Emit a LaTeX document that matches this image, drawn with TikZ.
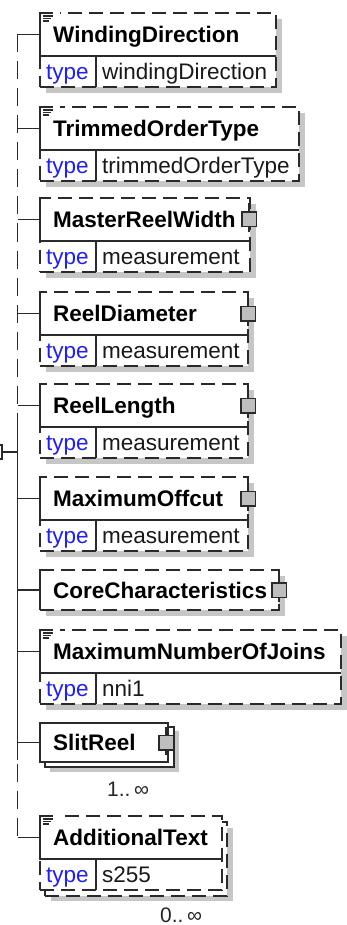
\documentclass[tikz,border=0pt]{standalone}
\usepackage{fontspec}
\setmainfont{Liberation Sans}
\definecolor{linec}{HTML}{2A2A2A}
\definecolor{shadowc}{HTML}{C6C6C6}
\definecolor{typec}{HTML}{1E1EFF}
\definecolor{sqc}{HTML}{BEBEBE}
\tikzset{
  ln/.style={draw=linec, line width=1.6pt},
  dsh/.style={dash pattern=on 14pt off 7pt},
  spinedash/.style={dash pattern=on 18pt off 9pt},
  ebox/.style={ln, fill=white, inner sep=0pt, outer sep=0pt, anchor=north west},
  shd/.style={fill=shadowc},
  ename/.style={font=\fontsize{22.5}{26}\selectfont\bfseries, anchor=base west, inner sep=0pt, text=black},
  tlab/.style={font=\fontsize{22.5}{26}\selectfont, anchor=base west, inner sep=0pt, text=typec},
  tval/.style={font=\fontsize{22.5}{26}\selectfont, anchor=base west, inner sep=0pt, text=black!90},
  card/.style={font=\fontsize{21}{24}\selectfont, anchor=base west, inner sep=0pt, text=black!85},
  sqr/.style={draw=linec, fill=sqc, line width=1.5pt, minimum size=14.5pt, inner sep=0pt},
  icon/.style={draw=linec, line width=1.1pt},
}
\newcommand\boxshadow[4]{\fill[shd] (#1,#2) rectangle (#3,#4);}
\newcommand\telem[6]{%
  \pgfmathsetmacro\eTop{#2}%
  \pgfmathsetmacro\eHb{#2+43}%
  \pgfmathsetmacro\eBot{#2+74}%
  \pgfmathsetmacro\eWid{#3-40}%
  \node[ebox,#6,minimum width=\eWid pt,minimum height=74pt] (#1) at (40,\eTop) {};
  \draw[ln] (40,\eTop) -- (40,\eHb) -- (#3,\eHb);
  \draw[ln] (96,\eHb) -- (96,\eBot);
  \node[ename] (#1-name) at (53,\eTop+29.5) {#4};
  \node[tlab] (#1-type) at (46,\eHb+23.5) {type};
  \node[tval] (#1-val) at (102,\eHb+23.5) {#5};
  \coordinate (#1-in) at (40,\eTop+21.5);
  \coordinate (sp-#1) at (17.5,\eTop+21.5);
}
\newcommand\docicon[1]{%
  \fill[white] (37,#1-3) rectangle (60,#1+2);
  \draw[icon] (40,#1+12) -- (40,#1) -- (53,#1);
  \draw[icon] (43,#1+3) -- (53,#1+3);
  \draw[icon] (43,#1+5.5) -- (51,#1+5.5);
  \draw[icon] (43,#1+8) -- (49,#1+8);
}
\newcommand\kids[3]{%
  \draw[ln] (#2,#3-16) -- (#2,#3+12);
  \node[sqr] (#1) at (#2,#3) {};
}
\begin{document}
\begin{tikzpicture}[x=1pt,y=-1pt]
\useasboundingbox (0,0) rectangle (346,925);
\fill[white] (0,0) rectangle (346,925);

% WindingDirection
\boxshadow{46}{19}{282}{93}
\telem{wd}{13}{276}{WindingDirection}{windingDirection}{dsh}
\docicon{13}
% TrimmedOrderType
\boxshadow{46}{113}{305}{187}
\telem{tot}{107}{299}{TrimmedOrderType}{trimmedOrderType}{dsh}
\docicon{107}
% MasterReelWidth
\boxshadow{46}{204}{256}{278}
\telem{mrw}{198}{250}{MasterReelWidth}{measurement}{dsh}
\kids{mrw-k}{249}{219.5}
% ReelDiameter
\boxshadow{46}{298}{254}{372}
\telem{rd}{292}{248}{ReelDiameter}{measurement}{dsh}
\kids{rd-k}{248}{313.5}
% ReelLength
\boxshadow{46}{390}{254}{464}
\telem{rl}{384}{248}{ReelLength}{measurement}{dsh}
\kids{rl-k}{248}{405.5}
% MaximumOffcut
\boxshadow{46}{483}{254}{557}
\telem{mo}{477}{248}{MaximumOffcut}{measurement}{dsh}
\kids{mo-k}{248}{498.5}
% CoreCharacteristics
\boxshadow{46}{576}{285}{616}
\node[ebox,dsh,minimum width=239pt,minimum height=40pt] (cc) at (40,570) {};
\draw[ln] (40,570) -- (40,610);
\node[ename] (cc-name) at (53,598) {CoreCharacteristics};
\kids{cc-k}{279}{590}
\coordinate (cc-in) at (40,590);
\coordinate (sp-cc) at (17.5,590);
% MaximumNumberOfJoins
\boxshadow{46}{636}{347}{710}
\telem{mnj}{630}{341}{MaximumNumberOfJoins}{nni1}{dsh}
\docicon{630}
% SlitReel
\boxshadow{50}{731}{179}{772}
\node[ebox,minimum width=129pt,minimum height=40pt] (sr-back) at (45,727) {};
\node[ebox,minimum width=128pt,minimum height=39pt] (sr) at (40,723) {};
\node[ename] (sr-name) at (53,750.5) {SlitReel};
\kids{sr-k}{166}{742.5}
\coordinate (sr-in) at (40,742.5);
\coordinate (sp-sr) at (17.5,742.5);
\node[card] (sr-card) at (107,796) {1..\,∞};
% AdditionalText
\boxshadow{51}{828}{233}{901}
\node[ebox,dsh,minimum width=182pt,minimum height=74pt] (at-back) at (45,822) {};
\telem{at}{816}{222}{AdditionalText}{s255}{dsh}
\docicon{816}
\node[card] (at-card) at (160,922) {0..\,∞};

% parent stub
\node[draw=linec, line width=1.6pt, fill=white, minimum width=12pt, minimum height=14pt, inner sep=0pt] (parent) at (-4,452) {};
\coordinate (sp-par) at (17.5,452);
\draw[ln] (parent.east) -- (sp-par);

% spine
\draw[ln,spinedash] (sp-wd) -- (sp-at);
\coordinate (solidA) at (17.5,430);
\coordinate (solidB) at (17.5,760);
\draw[ln] (solidA) -- (solidB);

% connectors
\foreach \n in {wd,tot,mrw,rd,rl,mo,cc,mnj,sr,at}{
  \draw[ln] (sp-\n) -- (\n-in);
}
\end{tikzpicture}
\end{document}
